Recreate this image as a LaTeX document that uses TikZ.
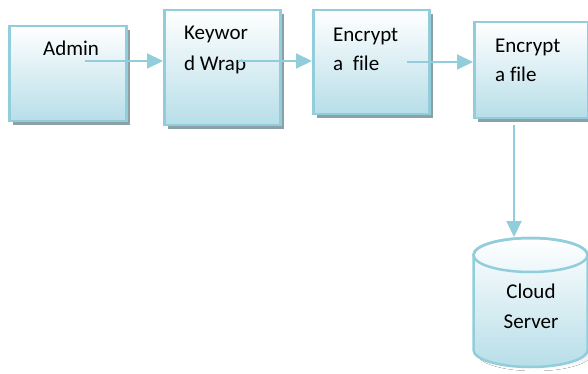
\documentclass[tikz,border=0pt]{standalone}
\usepackage{fontspec}
\setmainfont[Ligatures=NoCommon]{Carlito}
\usetikzlibrary{shadows,arrows.meta}
\definecolor{edge}{RGB}{146,205,220}
\definecolor{boxbot}{RGB}{183,222,232}
\definecolor{shade}{RGB}{140,160,168}
\begin{document}
\begin{tikzpicture}[x=1pt,y=-1pt,
  box/.style={draw=edge, line width=2.5pt, top color=white, bottom color=boxbot,
    anchor=north west, inner sep=0pt,
    drop shadow={shadow xshift=4pt, shadow yshift=-4pt, fill=shade, opacity=1}},
  txt/.style={anchor=base west, inner sep=0pt, font=\fontsize{21}{29}\selectfont},
  conn/.style={draw=edge, line width=2pt, -{Triangle[length=16pt,width=15pt]}}]
\useasboundingbox (0,0) rectangle (588,374);

% process boxes
\node[box, minimum width=117pt, minimum height=95pt]  (admin) at (8,25) {};
\node[box, minimum width=116pt, minimum height=115pt] (wrap)  at (163,9) {};
\node[box, minimum width=116pt, minimum height=104pt] (enc1)  at (312,9) {};
\node[box, minimum width=114pt, minimum height=96pt]  (enc2)  at (473,21) {};

% box labels
\node[txt] (tadmin) at (43,56) {Admin};
\node[txt] (twrap1) at (184,40) {Keywor};
\node[txt] (twrap2) at (184,71) {d Wrap};
\node[txt] (tenc1a) at (333,42) {Encrypt};
\node[txt] (tenc1b) at (333,71) {a\ \ file};
\node[txt] (tenc2a) at (495,53) {Encrypt};
\node[txt] (tenc2b) at (495,82) {a file};

% storage cylinder
\fill[shade] (477.5,259) -- (477.5,354)
  arc[start angle=180, end angle=0, x radius=57, y radius=17]
  -- (591.5,259) arc[start angle=0, end angle=-180, x radius=57, y radius=17] -- cycle;
\path[draw=edge, line width=2.5pt, top color=white, bottom color=boxbot]
  (473.5,255) -- (473.5,350)
  arc[start angle=180, end angle=0, x radius=57, y radius=17]
  -- (587.5,255) arc[start angle=0, end angle=-180, x radius=57, y radius=17] -- cycle;
\draw[edge, line width=2.5pt] (530.5,255) ellipse[x radius=57, y radius=17];
\coordinate (store) at (514,237);
\node[anchor=base, inner sep=0pt, font=\fontsize{21}{29}\selectfont] (cloud) at (531,298) {Cloud};
\node[anchor=base, inner sep=0pt, font=\fontsize{21}{29}\selectfont] (server) at (531,328) {Server};

% connectors
\coordinate (s1) at (85,61);
\coordinate (s2) at (238,61);
\coordinate (s3) at (407,62);
\coordinate (s4) at (514,125);
\draw[conn] (s1) -- (s1 -| wrap.west);
\draw[conn] (s2) -- (s2 -| enc1.west);
\draw[conn] (s3) -- (s3 -| enc2.west);
\draw[conn] (s4) -- (store);
\end{tikzpicture}
\end{document}
